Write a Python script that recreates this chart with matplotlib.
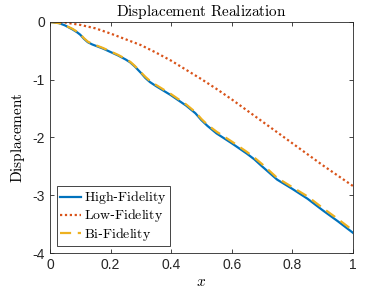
import matplotlib
matplotlib.use('Agg')
import matplotlib.pyplot as plt

plt.rcParams['mathtext.fontset'] = 'cm'
plt.rcParams['font.family'] = 'Liberation Sans'

# values
x = [0.0, 0.03, 0.05, 0.075, 0.09, 0.1, 0.112, 0.125, 0.14, 0.15, 0.175, 0.2,
     0.225, 0.25, 0.265, 0.28, 0.3, 0.315, 0.33, 0.35, 0.375, 0.4, 0.45, 0.48,
     0.5, 0.52, 0.55, 0.6, 0.65, 0.675, 0.7, 0.75, 0.8, 0.85, 0.9, 0.95, 1.0]
high_fid = [0.0, -0.02, -0.06, -0.13, -0.18, -0.22, -0.29, -0.35, -0.39, -0.41,
            -0.46, -0.52, -0.58, -0.65, -0.70, -0.77, -0.88, -0.97, -1.04, -1.11,
            -1.19, -1.27, -1.45, -1.58, -1.70, -1.80, -1.93, -2.10, -2.28, -2.38,
            -2.50, -2.73, -2.89, -3.06, -3.26, -3.45, -3.65]
bi_fid = [0.0, -0.02, -0.06, -0.12, -0.17, -0.21, -0.28, -0.34, -0.38, -0.40,
          -0.45, -0.51, -0.57, -0.64, -0.69, -0.76, -0.87, -0.95, -1.02, -1.09,
          -1.17, -1.25, -1.43, -1.56, -1.68, -1.78, -1.90, -2.07, -2.25, -2.35,
          -2.46, -2.70, -2.86, -3.02, -3.22, -3.41, -3.61]
x_low = [0.0, 0.05, 0.1, 0.15, 0.2, 0.25, 0.3, 0.35, 0.4, 0.45, 0.5, 0.55,
         0.6, 0.65, 0.7, 0.75, 0.8, 0.85, 0.9, 0.95, 1.0]
low_fid = [0.0, -0.01, -0.05, -0.11, -0.20, -0.30, -0.40, -0.53, -0.67, -0.83,
           -0.99, -1.16, -1.34, -1.53, -1.72, -1.91, -2.10, -2.29, -2.48, -2.66, -2.84]

fig = plt.figure(figsize=(3.9, 2.93), dpi=100)
ax = fig.add_axes([0.128, 0.1365, 0.777, 0.7885])

ax.plot(x, high_fid, color='#0072BD', linewidth=1.6, label=r'$\mathrm{High}$-$\mathrm{Fidelity}$')
ax.plot(x_low, low_fid, color='#D95319', linewidth=1.6, linestyle=(0, (1, 1.2)),
        label=r'$\mathrm{Low}$-$\mathrm{Fidelity}$')
ax.plot(x, bi_fid, color='#EDB120', linewidth=1.6, linestyle=(0, (5, 3)),
        label=r'$\mathrm{Bi}$-$\mathrm{Fidelity}$')

ax.set_xlim(0, 1)
ax.set_ylim(-4, 0)
ax.set_xticks([0, 0.2, 0.4, 0.6, 0.8, 1])
ax.set_xticklabels(['0', '0.2', '0.4', '0.6', '0.8', '1'])
ax.set_yticks([-4, -3, -2, -1, 0])
ax.set_yticklabels(['-4', '-3', '-2', '-1', '0'])
ax.tick_params(direction='in', top=True, right=True, labelsize=10,
               colors='#262626', length=3, width=0.6)
for s in ax.spines.values():
    s.set_color('#262626')
    s.set_linewidth(0.6)

ax.set_title(r'$\mathrm{Displacement\ Realization}$', fontsize=11, pad=4)
ax.set_xlabel(r'$x$', fontsize=11, labelpad=2)
ax.set_ylabel(r'$\mathrm{Displacement}$', fontsize=11, labelpad=4)

leg = ax.legend(loc='lower left', fontsize=10, fancybox=False, framealpha=1,
                edgecolor='#262626', handlelength=1.5, borderpad=0.25,
                labelspacing=0.08, handletextpad=0.2, borderaxespad=0.5)
leg.get_frame().set_linewidth(0.6)

fig.savefig('out.png', dpi=100)
